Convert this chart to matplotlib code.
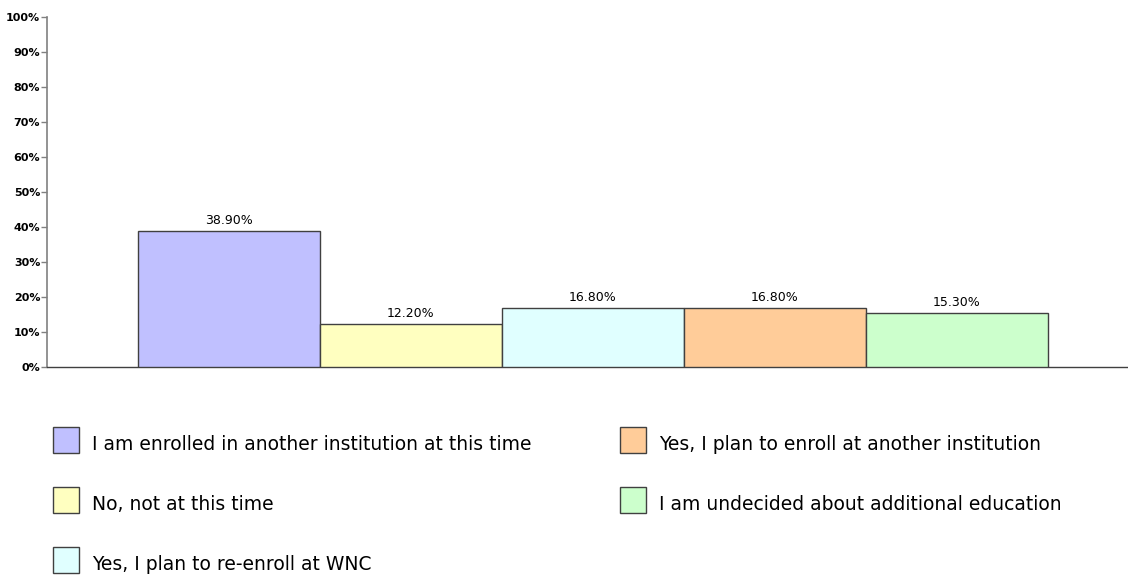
import matplotlib
matplotlib.use("Agg")
import matplotlib.pyplot as plt
from matplotlib.patches import Rectangle
from matplotlib.ticker import FixedLocator

categories = [
    "I am enrolled in another institution at this time",
    "No, not at this time",
    "Yes, I plan to re-enroll at WNC",
    "Yes, I plan to enroll at another institution",
    "I am undecided about additional education",
]
values = [38.9, 12.2, 16.8, 16.8, 15.3]
colors = ["#C0C0FF", "#FFFFC0", "#E0FFFF", "#FFCC99", "#CCFFCC"]
y_ticks = [0, 10, 20, 30, 40, 50, 60, 70, 80, 90, 100]
y_tick_labels = [f"{t}%" for t in y_ticks]

W, H = 1128, 580
fig = plt.figure(figsize=(W / 100, H / 100), dpi=100)
fig.patch.set_facecolor("white")

def px(x0, y0, x1, y1):
    return [x0 / W, 1 - y1 / H, (x1 - x0) / W, (y1 - y0) / H]

ax = fig.add_axes(px(46.5, 17, 46.5 + 6 * 182, 367))
ax.set_xlim(-1, 5)
ax.set_ylim(0, 100)

xs = list(range(len(values)))
bars = ax.bar(xs, values, width=1.0, color=colors, edgecolor="#404040",
              linewidth=1.0, zorder=3)
for b, v in zip(bars, values):
    ax.annotate(f"{v:.2f}%", (b.get_x() + b.get_width() / 2, v),
                xytext=(0, 3), textcoords="offset points",
                ha="center", va="bottom", fontsize=9, color="black")

for s in ["top", "right"]:
    ax.spines[s].set_visible(False)
ax.spines["left"].set_color("#808080")
ax.spines["left"].set_linewidth(1.2)
ax.spines["bottom"].set_color("#404040")
ax.spines["bottom"].set_linewidth(1.0)

ax.yaxis.set_major_locator(FixedLocator(y_ticks))
ax.set_yticklabels(y_tick_labels, fontsize=8, fontweight="bold")
ax.tick_params(axis="y", length=4, width=1, color="#808080", pad=0.5)
ax.set_xticks([])

# legend entries: two columns, three rows
col_x = [53, 620]
row_y = [440, 500, 560]
for i, (label, c) in enumerate(zip(categories, colors)):
    col = 0 if i < 3 else 1
    row = i if i < 3 else i - 3
    x0 = col_x[col]
    yc = row_y[row]
    fig.add_artist(Rectangle((x0 / W, 1 - (yc + 13) / H), 26 / W, 26 / H,
                             transform=fig.transFigure, facecolor=c,
                             edgecolor="#404040", linewidth=1.0))
    fig.text((x0 + 39) / W, 1 - (yc + 5) / H, label, fontsize=13.5,
             ha="left", va="center", color="black")

fig.savefig("out.png", dpi=100)
